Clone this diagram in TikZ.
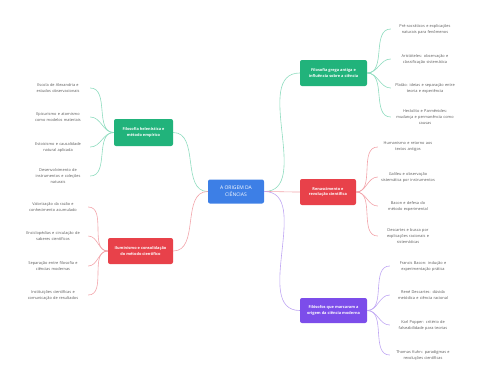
\documentclass[tikz,border=0pt]{standalone}
\usepackage{fontspec}
\setmainfont{Open Sans}
\definecolor{cblue}{HTML}{3D7FE6}
\definecolor{cgreen}{HTML}{21B37B}
\definecolor{cgreenl}{HTML}{8FDCBF}
\definecolor{cred}{HTML}{E8414A}
\definecolor{credl}{HTML}{F2A4AA}
\definecolor{cpurple}{HTML}{7C4DEA}
\definecolor{cpurplel}{HTML}{BFA6F3}
\definecolor{cleaf}{HTML}{5A5A5A}
\begin{document}
\begin{tikzpicture}[x=1pt,y=-1pt,
  hub/.style={rounded corners=2pt, fill=#1, text=white, align=center, inner sep=0pt,
    font=\fontsize{3.9}{5.6}\selectfont\bfseries},
  leaf/.style={text=cleaf, align=center, inner sep=1pt, text width=#1,
    font=\fontsize{3.9}{6}\selectfont},
  link/.style={draw=#1, line width=0.6pt},
]
\useasboundingbox (0,0) rectangle (480,384);
% center
\node[hub=cblue, minimum width=56pt, minimum height=24pt, font=\fontsize{5}{7}\selectfont] (c) at (236,191.5) {A ORIGEM DA\\CIÊNCIAS};
% hubs
\node[hub=cgreen, minimum width=67pt, minimum height=26pt] (rg) at (333.5,73) {Filosofia grega antiga e\\influência sobre a ciência};
\node[hub=cred, minimum width=56pt, minimum height=26pt] (rr) at (328,192) {Renascimento e\\revolução científica};
\node[hub=cpurple, minimum width=67pt, minimum height=25pt] (rp) at (333.5,310.5) {Filósofos que marcaram a\\origem da ciência moderna};
\node[hub=cgreen, minimum width=59pt, minimum height=27pt] (lg) at (143.5,132.5) {Filosofia helenística e\\método empírico};
\node[hub=cred, minimum width=65pt, minimum height=26pt] (lr) at (140.5,251) {Iluminismo e consolidação\\do método científico};
% center links
\draw[link=cgreenl] (c.west) to[out=180,in=0] (lg.east);
\draw[link=credl] (c.west) to[out=180,in=0] (lr.east);
\draw[link=cgreenl] (c.east) to[out=0,in=180] (rg.west);
\draw[link=credl] (c.east) to[out=0,in=180] (rr.west);
\draw[link=cpurplel] (c.east) to[out=0,in=180] (rp.west);
% right green leaves
\node[leaf=66pt] (rg1) at (425,29) {Pré-socráticos e explicações\\naturais para fenômenos};
\node[leaf=66pt] (rg2) at (425,59) {Aristóteles: observação e\\classificação sistemática};
\node[leaf=66pt] (rg3) at (425,88) {Platão: ideias e separação entre\\teoria e experiência};
\node[leaf=66pt] (rg4) at (425,117) {Heráclito e Parmênides:\\mudança e permanência como\\causas};
\foreach \i in {1,...,4} \draw[link=cgreenl] (rg.east) to[out=0,in=180] (rg\i.west);
% right red leaves
\node[leaf=58pt] (rr1) at (408,147) {Humanismo e retorno aos\\textos antigos};
\node[leaf=58pt] (rr2) at (408,177) {Galileu e observação\\sistemática por instrumentos};
\node[leaf=58pt] (rr3) at (408,206) {Bacon e defesa do\\método experimental};
\node[leaf=58pt] (rr4) at (408,236) {Descartes e busca por\\explicações racionais e\\sistemáticas};
\foreach \i in {1,...,4} \draw[link=credl] (rr.east) to[out=0,in=180] (rr\i.west);
% right purple leaves
\node[leaf=64pt] (rp1) at (423,266) {Francis Bacon: indução e\\experimentação prática};
\node[leaf=64pt] (rp2) at (423,295) {René Descartes: dúvida\\metódica e ciência racional};
\node[leaf=64pt] (rp3) at (423,325) {Karl Popper: critério de\\falseabilidade para teorias};
\node[leaf=64pt] (rp4) at (423,355) {Thomas Kuhn: paradigmas e\\revoluções científicas};
\foreach \i in {1,...,4} \draw[link=cpurplel] (rp.east) to[out=0,in=180] (rp\i.west);
% left green leaves
\node[leaf=62pt] (lg1) at (58,88) {Escola de Alexandria e\\estudos observacionais};
\node[leaf=62pt] (lg2) at (58,117) {Epicurismo e atomismo\\como modelos materiais};
\node[leaf=62pt] (lg3) at (58,147) {Estoicismo e causalidade\\natural aplicada};
\node[leaf=62pt] (lg4) at (58,176) {Desenvolvimento de\\instrumentos e coleções\\naturais};
\foreach \i in {1,...,4} \draw[link=cgreenl] (lg.west) to[out=180,in=0] (lg\i.east);
% left red leaves
\node[leaf=68pt] (lr1) at (53,207) {Valorização da razão e\\conhecimento acumulado};
\node[leaf=68pt] (lr2) at (53,236) {Enciclopédias e circulação de\\saberes científicos};
\node[leaf=68pt] (lr3) at (53,266) {Separação entre filosofia e\\ciências modernas};
\node[leaf=68pt] (lr4) at (53,295) {Instituições científicas e\\comunicação de resultados};
\foreach \i in {1,...,4} \draw[link=credl] (lr.west) to[out=180,in=0] (lr\i.east);
\end{tikzpicture}
\end{document}
